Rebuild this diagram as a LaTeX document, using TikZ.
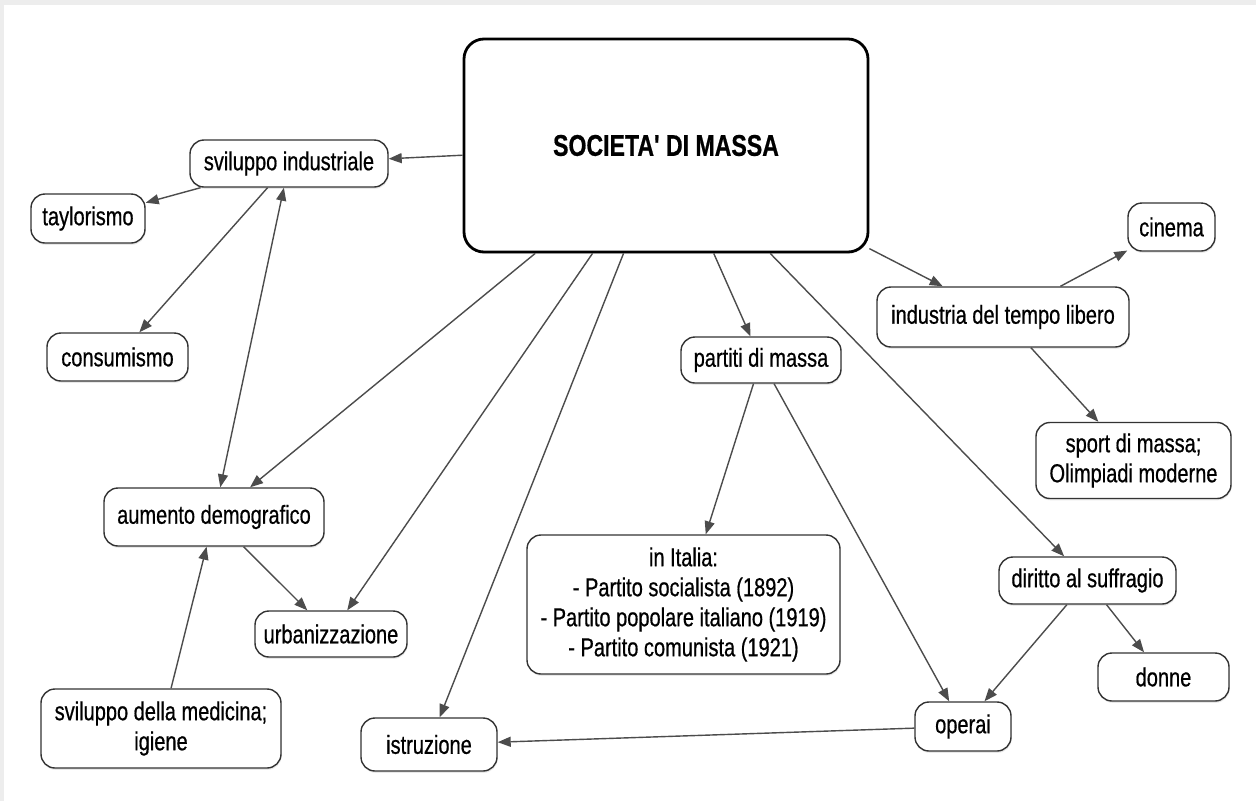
\documentclass[tikz,border=0pt]{standalone}
\usepackage{fontspec}
\setmainfont{Liberation Sans}[FakeStretch=0.77, FakeBold=0.6, Ligatures=TeXOff]
\usetikzlibrary{arrows.meta,shadows}
\begin{document}
\begin{tikzpicture}[x=1pt,y=-1pt,
  box/.style={draw=black!80, line width=1.4pt, rounded corners=14pt, fill=white,
    inner sep=0pt, align=center, font=\fontsize{26}{30}\selectfont,
    drop shadow={opacity=0.18, shadow xshift=0.6pt, shadow yshift=-1.8pt}},
  mainbox/.style={box, line width=2.8pt, draw=black, rounded corners=20pt,
    font=\bfseries\fontsize{30}{34}\selectfont},
  conn/.style={draw=black!70, line width=1.4pt, -{Triangle[length=13pt,width=10pt]}},
  biconn/.style={draw=black!70, line width=1.4pt, {Triangle[length=13pt,width=10pt]}-{Triangle[length=13pt,width=10pt]}}]
\useasboundingbox (0,0) rectangle (1256,801);
\fill[black!7] (0,0) rectangle (1256,801);
\fill[white] (4,5) rectangle (1256,801);

\node[mainbox, minimum width=404, minimum height=213] (main) at (666,145.5) {SOCIETA' DI MASSA};
\node[box, minimum width=198, minimum height=47] (si) at (289,163.5) {sviluppo industriale};
\node[box, minimum width=114, minimum height=49] (tay) at (88,218.5) {taylorismo};
\node[box, minimum width=141, minimum height=48] (cons) at (117.5,357) {consumismo};
\node[box, minimum width=220, minimum height=58] (aum) at (214,517) {aumento demografico};
\node[box, minimum width=152, minimum height=46] (urb) at (331,634) {urbanizzazione};
\node[box, minimum width=240, minimum height=79] (med) at (161,728.5) {sviluppo della medicina;\\igiene};
\node[box, minimum width=136, minimum height=53] (istr) at (429,744.5) {istruzione};
\node[box, minimum width=160, minimum height=46] (part) at (761,360) {partiti di massa};
\node[box, minimum width=313, minimum height=139] (ital) at (683.5,604.5) {in Italia:\\- Partito socialista (1892)\\- Partito popolare italiano (1919)\\- Partito comunista (1921)};
\node[box, minimum width=177, minimum height=47] (dir) at (1087.5,580.5) {diritto al suffragio};
\node[box, minimum width=131, minimum height=48] (donne) at (1163.5,677) {donne};
\node[box, minimum width=96, minimum height=49] (op) at (963,726.5) {operai};
\node[box, minimum width=252, minimum height=60] (ind) at (1003,317) {industria del tempo libero};
\node[box, minimum width=87, minimum height=48] (cin) at (1171.5,227) {cinema};
\node[box, minimum width=195, minimum height=76] (sport) at (1133.5,460.5) {sport di massa;\\Olimpiadi moderne};

\draw[conn] (main) -- (si);
\draw[conn] (si) -- (tay);
\draw[conn] (si) -- (cons);
\draw[biconn] (si) -- (aum);
\draw[conn] (main) -- (aum);
\draw[conn] (aum) -- (urb);
\draw[conn] (main) -- (urb);
\draw[conn] (med) -- (aum);
\draw[conn] (main) -- (istr);
\draw[conn] (op) -- (istr);
\draw[conn] (main) -- (part);
\draw[conn] (part) -- (ital);
\draw[conn] (part) -- (op);
\draw[conn] (main) -- (dir);
\draw[conn] (dir) -- (op);
\draw[conn] (dir) -- (donne);
\draw[conn] (main) -- (ind);
\draw[conn] (ind) -- (cin);
\draw[conn] (ind) -- (sport);
\end{tikzpicture}
\end{document}
